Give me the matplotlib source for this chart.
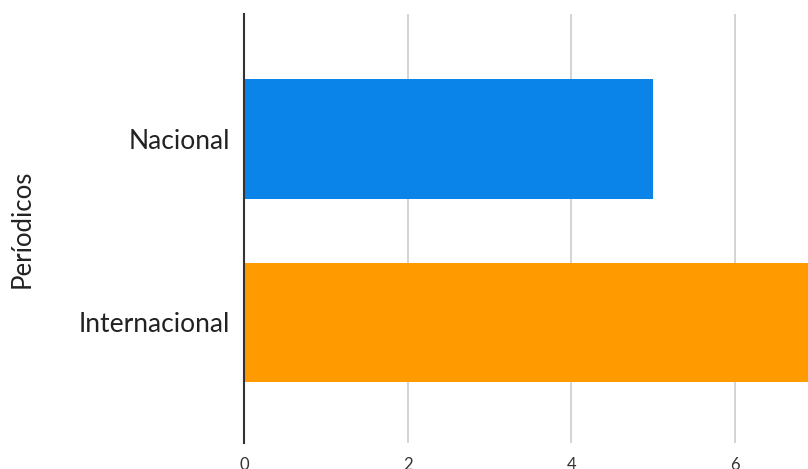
import matplotlib.pyplot as plt

# Number of periodicals by scope
categorias = ["Internacional", "Nacional"]
valores = [7, 5]
cores = ["#ff9a00", "#0a84e8"]
x_ticks = [0, 2, 4, 6]

plt.rcParams['font.family'] = ['Lato', 'DejaVu Sans']

fig = plt.figure(figsize=(8.08, 4.69), dpi=100)
ax = fig.add_axes([244 / 808, 1 - 443 / 469, 1 - 244 / 808, (443 - 14) / 469])

ax.barh(range(len(categorias)), valores, height=0.65, color=cores, zorder=2)

ax.set_xlim(0, (808 - 244) / 81.8)
ax.set_ylim(-0.657, 1.681)
ax.set_xticks(x_ticks)
ax.set_xticklabels([str(t) for t in x_ticks], fontsize=12, color="#333333")
ax.set_yticks(range(len(categorias)))
ax.set_yticklabels(categorias, fontsize=19, color="#222222")
ax.tick_params(axis='x', length=0, pad=10)
ax.tick_params(axis='y', length=0, pad=10)

ax.grid(axis='x', color="#cccccc", linewidth=1.2, zorder=1)
for side in ['top', 'right', 'bottom']:
    ax.spines[side].set_visible(False)
ax.spines['left'].set_color("#333333")
ax.spines['left'].set_linewidth(1.5)
ax.spines['left'].set_zorder(3)

ax.set_ylabel("Períodicos", fontsize=18.5, color="#222222")
ax.yaxis.set_label_coords(-(244 - 22) / (808 - 244), 0.5)
ax.yaxis.label.set_verticalalignment('center')

fig.savefig("out.png", dpi=100)
